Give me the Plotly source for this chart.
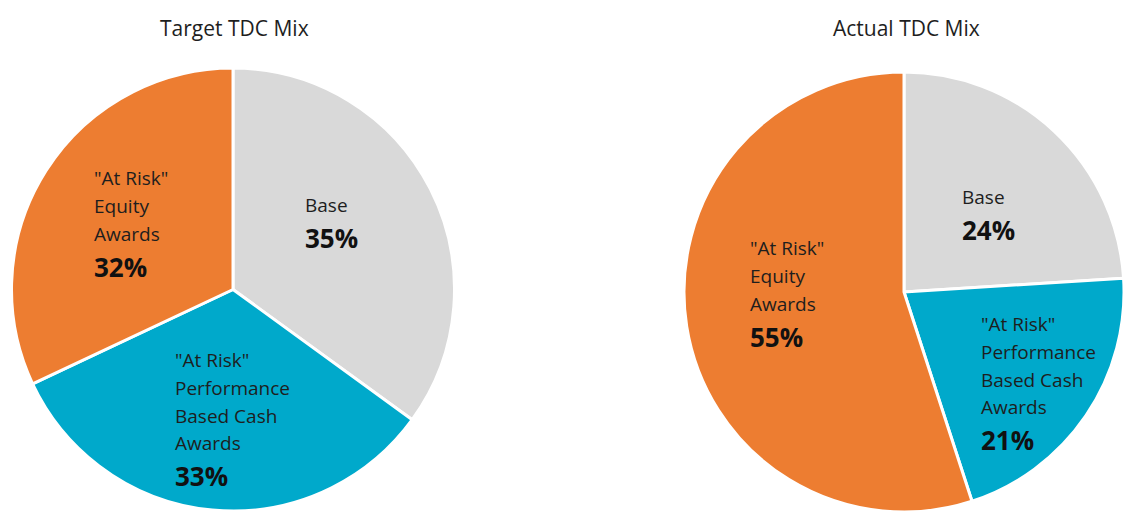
import plotly.graph_objects as go

# ---- data ----
categories = ["Base", "\"At Risk\" Performance Based Cash Awards", "\"At Risk\" Equity Awards"]
label_lines = [["Base"], ["\"At Risk\"", "Performance", "Based Cash", "Awards"], ["\"At Risk\"", "Equity", "Awards"]]
target_values = [35, 33, 32]
actual_values = [24, 21, 55]
chart_titles = ["Target TDC Mix", "Actual TDC Mix"]

colors = ["#D9D9D9", "#00A9CB", "#ED7D31"]
FONT = "Open Sans"
TXT = "#1E1E1E"

W, H = 1124, 515

fig = go.Figure()
domains = [
    dict(x=[11 / W, 455 / W], y=[1 - 511 / H, 1 - 68 / H]),
    dict(x=[684 / W, 1.0], y=[1 - 514 / H, 1 - 70 / H]),
]
for vals, dom in zip([target_values, actual_values], domains):
    fig.add_trace(go.Pie(
        labels=categories, values=vals, sort=False, direction="clockwise", rotation=0,
        marker=dict(colors=colors, line=dict(color="white", width=3)),
        textinfo="none", hoverinfo="label+percent", domain=dom, showlegend=False,
    ))

annotations = []
# titles
for title, cx in zip(chart_titles, [234, 906]):
    annotations.append(dict(text=title, x=cx / W, y=1 - 28 / H, xref="paper", yref="paper",
                            showarrow=False, xanchor="center", yanchor="middle",
                            font=dict(family=FONT, size=21, color=TXT, weight=500)))

# label blocks: (left x px, first line center y px) for each slice in each pie
block_pos = [
    [(303, 205), (173, 360), (92, 178)],
    [(960, 197), (979, 324), (748, 248)],
]
LINE = 27.8
for vals, poss in zip([target_values, actual_values], block_pos):
    for i, (lx, ly) in enumerate(poss):
        lines = label_lines[i]
        for j, ln in enumerate(lines):
            annotations.append(dict(text=ln, x=lx / W, y=1 - (ly + j * LINE) / H,
                                    xref="paper", yref="paper", showarrow=False,
                                    xanchor="left", yanchor="middle",
                                    font=dict(family=FONT, size=19, color=TXT, weight=500)))
        py = ly + (len(lines) - 1) * LINE + 33
        annotations.append(dict(text=f"<b>{vals[i]}%</b>", x=lx / W, y=1 - py / H,
                                xref="paper", yref="paper", showarrow=False,
                                xanchor="left", yanchor="middle",
                                font=dict(family=FONT, size=26, color="#111111")))

fig.update_layout(
    width=W, height=H, margin=dict(l=0, r=0, t=0, b=0),
    paper_bgcolor="white", plot_bgcolor="white",
    annotations=annotations,
)
fig.write_html("out.html", config={"displayModeBar": False},
               post_script="document.body.style.margin='0';")
